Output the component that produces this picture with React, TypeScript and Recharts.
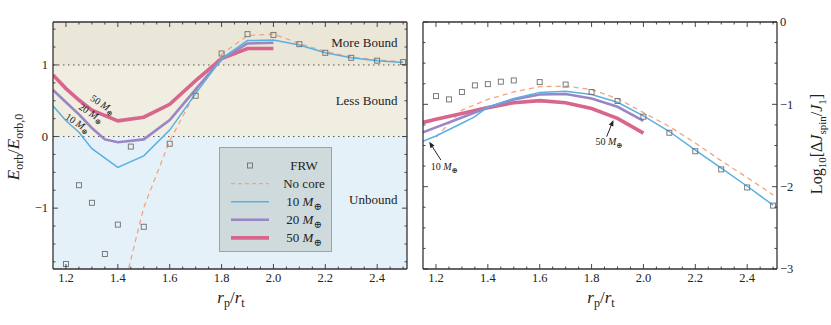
import React from 'react';
import {
  ComposedChart, Line, Scatter, XAxis, YAxis, ReferenceArea, ReferenceLine, ReferenceDot, Legend,
} from 'recharts';

const FONT = '"Liberation Serif", "DejaVu Serif", serif';
const INK = '#222';

// ---------- data ----------
const frwX = [1.2, 1.25, 1.3, 1.35, 1.4, 1.45, 1.5, 1.6, 1.7, 1.8, 1.9, 2.0, 2.1, 2.2, 2.3, 2.4, 2.5];

// Left panel: E_orb / E_orb,0
const energyFRW = [-1.78, -0.68, -0.925, -1.64, -1.23, -0.14, -1.26, -0.1, 0.57, 1.16, 1.43, 1.42, 1.29, 1.17, 1.1, 1.06, 1.04];
const energyNoCoreX = [1.4, 1.5, 1.6, 1.7, 1.8, 1.9, 2.0, 2.1, 2.2, 2.3, 2.4, 2.5];
const energyNoCore = [-2.45, -0.99, -0.06, 0.62, 1.15, 1.41, 1.43, 1.3, 1.19, 1.11, 1.07, 1.045];
const energy10X = [1.15, 1.2, 1.25, 1.3, 1.4, 1.5, 1.6, 1.7, 1.8, 1.9, 2.0, 2.1, 2.2, 2.3, 2.4, 2.5];
const energy10 = [0.43, 0.22, 0.06, -0.17, -0.43, -0.27, 0.09, 0.6, 1.09, 1.34, 1.35, 1.28, 1.17, 1.1, 1.06, 1.035];
const energy20X = [1.15, 1.2, 1.25, 1.3, 1.35, 1.4, 1.5, 1.6, 1.7, 1.8, 1.9, 2.0];
const energy20 = [0.65, 0.48, 0.31, 0.12, -0.04, -0.08, -0.04, 0.23, 0.66, 1.08, 1.3, 1.31];
const energy50X = [1.15, 1.2, 1.25, 1.3, 1.4, 1.5, 1.6, 1.7, 1.8, 1.9, 2.0];
const energy50 = [0.86, 0.67, 0.51, 0.37, 0.22, 0.27, 0.45, 0.78, 1.09, 1.23, 1.23];

// Right panel: Log10[ΔJspin / J1]
const spinFRW = [-0.9, -0.94, -0.85, -0.77, -0.755, -0.725, -0.71, -0.73, -0.76, -0.85, -0.96, -1.15, -1.345, -1.57, -1.79, -2.01, -2.23];
const spinNoCoreX = [1.2, 1.3, 1.4, 1.5, 1.6, 1.7, 1.8, 1.9, 2.0, 2.1, 2.2, 2.3, 2.4, 2.5];
const spinNoCore = [-1.4, -1.07, -0.94, -0.85, -0.785, -0.78, -0.82, -0.93, -1.1, -1.27, -1.47, -1.685, -1.89, -2.1];
const spin10X = [1.15, 1.2, 1.3, 1.35, 1.4, 1.5, 1.6, 1.7, 1.8, 1.9, 2.0, 2.1, 2.2, 2.3, 2.4, 2.5];
const spin10 = [-1.45, -1.385, -1.23, -1.15, -1.03, -0.93, -0.855, -0.84, -0.88, -0.975, -1.14, -1.33, -1.555, -1.775, -1.995, -2.225];
const spin20X = [1.15, 1.2, 1.3, 1.4, 1.5, 1.6, 1.7, 1.8, 1.9, 2.0];
const spin20 = [-1.34, -1.28, -1.16, -1.04, -0.94, -0.88, -0.875, -0.93, -1.03, -1.2];
const spin50X = [1.15, 1.2, 1.3, 1.4, 1.5, 1.6, 1.7, 1.8, 1.9, 2.0];
const spin50 = [-1.22, -1.18, -1.11, -1.04, -0.98, -0.955, -0.98, -1.05, -1.17, -1.35];

// ticks
const xTickLabels = [1.2, 1.4, 1.6, 1.8, 2.0, 2.2, 2.4];
const energyTickLabels = [-1, 0, 1];
const spinTickLabels = [-3, -2, -1, 0];
const xDomain: [number, number] = [1.15, 2.515];
const energyDomain: [number, number] = [-1.85, 1.6];
const spinDomain: [number, number] = [-3, 0];

const stepTicks = (a: number, b: number, s: number) => {
  const out: number[] = [];
  for (let v = a; v <= b + 1e-9; v += s) out.push(Math.round(v * 100) / 100);
  return out;
};
const xMinor = stepTicks(1.2, 2.5, 0.05);
const energyMinor = stepTicks(-1.75, 1.5, 0.25);
const spinMinor = stepTicks(-3, 0, 0.25);

const zip = (xs: number[], ys: number[]) => xs.map((x, i) => ({ x, y: ys[i] }));

// ---------- styles ----------
const C_BLUE = '#58b0e3';
const C_PURPLE = '#9a86c4';
const C_PINK = '#d8668c';
const C_DASH = '#f2a482';
const C_SQ = '#6e6e6e';

// ---------- ticks ----------
type Side = 'bottom' | 'top' | 'left' | 'right';
const fmt = (v: number, d: number) => {
  const s = v.toFixed(d);
  return s.startsWith('-') ? '\u2212' + s.slice(1) : s;
};
const makeTick = (side: Side, majors: number[], showLabel: boolean, digits: number) => (props: any) => {
  const { x, y, payload } = props;
  const v = payload.value as number;
  const major = majors.some((m) => Math.abs(m - v) < 1e-6);
  const len = major ? 5 : 2.5;
  let x2 = x, y2 = y;
  if (side === 'bottom') y2 = y - len;
  else if (side === 'top') y2 = y + len;
  else if (side === 'left') x2 = x + len;
  else x2 = x - len;
  let label: any = null;
  if (showLabel && major) {
    const common = { fontSize: 12.5, fill: INK, fontFamily: FONT };
    if (side === 'bottom') label = <text x={x} y={y + 13} textAnchor="middle" {...common}>{fmt(v, digits)}</text>;
    else if (side === 'left') label = <text x={x - 5} y={y + 4.3} textAnchor="end" {...common}>{fmt(v, digits)}</text>;
    else if (side === 'right') label = <text x={x + 3} y={y + 4.3} textAnchor="start" {...common}>{fmt(v, digits)}</text>;
  }
  return (
    <g>
      <line x1={x} y1={y} x2={x2} y2={y2} stroke="#333" strokeWidth={0.9} />
      {label}
    </g>
  );
};

const tickBottomLabeled = makeTick('bottom', xTickLabels, true, 1);
const tickTop = makeTick('top', xTickLabels, false, 1);
const tickLeftEnergy = makeTick('left', energyTickLabels, true, 0);
const tickRightEnergy = makeTick('right', energyTickLabels, false, 0);
const tickLeftSpin = makeTick('left', spinTickLabels, false, 0);
const tickRightSpin = makeTick('right', spinTickLabels, true, 0);

const squareShape = (p: any) => (
  <rect x={p.cx - 2.5} y={p.cy - 2.5} width={5} height={5} fill="none" stroke={C_SQ} strokeWidth={0.9} />
);

const MassSpans = ({ m, size }: { m: string; size: number }) => (
  <>
    <tspan>{m} </tspan>
    <tspan fontStyle="italic">M</tspan>
    <tspan fontSize={size * 0.75} dy={size * 0.28}>{'\u2295'}</tspan>
  </>
);

const rotatedMass = (m: string) => (p: any) => (
  <text
    x={p.cx}
    y={p.cy}
    transform={`rotate(33 ${p.cx} ${p.cy})`}
    textAnchor="middle"
    fontSize={10}
    fontFamily={FONT}
    fill={INK}
  >
    <MassSpans m={m} size={10} />
  </text>
);

const arrowShape = (m: string, dx: number, dy: number, tx: number, ty: number) => (p: any) => {
  const { cx, cy } = p;
  const L = Math.hypot(dx, dy);
  const ux = -dx / L, uy = -dy / L;
  const hl = 6, hw = 2.4;
  const bx = cx - ux * hl, by = cy - uy * hl;
  const pts = `${cx},${cy} ${bx - uy * hw},${by + ux * hw} ${bx + uy * hw},${by - ux * hw}`;
  return (
    <g>
      <line x1={cx + dx} y1={cy + dy} x2={bx} y2={by} stroke={INK} strokeWidth={1} />
      <polygon points={pts} fill={INK} />
      <text x={cx + tx} y={cy + ty} textAnchor="middle" fontSize={10} fontFamily={FONT} fill={INK}>
        <MassSpans m={m} size={10} />
      </text>
    </g>
  );
};

// ---------- legend ----------
const legendEntries = [
  { name: 'FRW', kind: 'square', color: C_SQ, width: 0, dash: '' },
  { name: 'No core', kind: 'line', color: C_DASH, width: 1.3, dash: '4 3' },
  { name: '10', kind: 'line', color: C_BLUE, width: 1.6, dash: '' },
  { name: '20', kind: 'line', color: C_PURPLE, width: 2.6, dash: '' },
  { name: '50', kind: 'line', color: C_PINK, width: 3.6, dash: '' },
];
const LegendBox = () => (
  <div style={{ width: 113, height: 105, background: '#cfdadd', border: '1px solid #9aa3a6', boxSizing: 'border-box' }}>
    <svg width={111} height={103} style={{ display: 'block' }}>
      {legendEntries.map((e, i) => {
        const y = 17.5 + i * 18.1;
        return (
          <g key={e.name}>
            {e.kind === 'square' ? (
              <rect x={27.5} y={y - 2.5} width={5} height={5} fill="none" stroke={e.color} strokeWidth={0.9} />
            ) : (
              <line x1={11} x2={49} y1={y} y2={y} stroke={e.color} strokeWidth={e.width} strokeDasharray={e.dash || undefined} />
            )}
            <text x={84} y={y + 4.5} textAnchor="middle" fontSize={13} fontFamily={FONT} fill={INK}>
              {e.kind === 'square' || e.name === 'No core' ? e.name : <MassSpans m={e.name} size={13} />}
            </text>
          </g>
        );
      })}
    </svg>
  </div>
);

const regionText = (txt: string) => (p: any) => (
  <text x={p.cx} y={p.cy + 4.5} textAnchor="end" fontSize={13} fontFamily={FONT} fill={INK}>
    {txt}
  </text>
);

const axisCommon = { axisLine: { stroke: '#333', strokeWidth: 1.3 }, tickLine: false, tickSize: 0, tickMargin: 0, interval: 0 as const };

export default function App() {
  return (
    <div style={{ position: 'absolute', left: 0, top: 0, width: 831, height: 325, background: '#fff', fontFamily: FONT }}>
      {/* Left panel */}
      <div style={{ position: 'absolute', left: 0, top: 0 }}>
        <ComposedChart width={415} height={325} margin={{ top: 21, right: 7, bottom: 55, left: 52 }}>
          <XAxis dataKey="x" type="number" domain={xDomain} allowDataOverflow ticks={xMinor} tick={tickBottomLabeled} height={1} {...axisCommon} />
          <XAxis xAxisId="top" orientation="top" dataKey="x" type="number" domain={xDomain} allowDataOverflow ticks={xMinor} tick={tickTop} height={1} {...axisCommon} />
          <YAxis dataKey="y" type="number" domain={energyDomain} allowDataOverflow ticks={energyMinor} tick={tickLeftEnergy} width={1} {...axisCommon} />
          <YAxis yAxisId="right" orientation="right" type="number" domain={energyDomain} allowDataOverflow ticks={energyMinor} tick={tickRightEnergy} width={1} {...axisCommon} />

          <ReferenceArea y1={1} y2={1.6} fill="#ebe7d8" fillOpacity={1} stroke="none" />
          <ReferenceArea y1={0} y2={1} fill="#f0ede1" fillOpacity={1} stroke="none" />
          <ReferenceArea y1={-1.85} y2={0} fill="#e5f1f8" fillOpacity={1} stroke="none" />
          <ReferenceLine y={1} stroke="#555" strokeDasharray="1.5 3.5" strokeWidth={1} />
          <ReferenceLine y={0} stroke="#555" strokeDasharray="1.5 3.5" strokeWidth={1} />

          <ReferenceDot x={2.478} y={1.31} r={0} shape={regionText('More Bound')} />
          <ReferenceDot x={2.478} y={0.5} r={0} shape={regionText('Less Bound')} />
          <ReferenceDot x={2.478} y={-0.88} r={0} shape={regionText('Unbound')} />

          <Line data={zip(energyNoCoreX, energyNoCore)} dataKey="y" stroke={C_DASH} strokeWidth={1.3} strokeDasharray="5 4" dot={false} isAnimationActive={false} />
          <Line data={zip(energy50X, energy50)} dataKey="y" stroke={C_PINK} strokeWidth={3.6} dot={false} isAnimationActive={false} />
          <Line data={zip(energy20X, energy20)} dataKey="y" stroke={C_PURPLE} strokeWidth={2.6} dot={false} isAnimationActive={false} />
          <Line data={zip(energy10X, energy10)} dataKey="y" stroke={C_BLUE} strokeWidth={1.5} dot={false} isAnimationActive={false} />
          <Scatter data={zip(frwX, energyFRW)} dataKey="y" shape={squareShape} isAnimationActive={false} />

          <ReferenceDot x={1.335} y={0.41} r={0} shape={rotatedMass('50')} />
          <ReferenceDot x={1.29} y={0.29} r={0} shape={rotatedMass('20')} />
          <ReferenceDot x={1.238} y={0.15} r={0} shape={rotatedMass('10')} />

          <Legend
            layout="horizontal"
            align="center"
            verticalAlign="middle"
            content={() => <LegendBox />}
            wrapperStyle={{ position: 'absolute', left: 219, top: 147, width: 113, height: 105 }}
          />
        </ComposedChart>
      </div>

      {/* Right panel */}
      <div style={{ position: 'absolute', left: 415, top: 0 }}>
        <ComposedChart width={416} height={325} margin={{ top: 21, right: 53, bottom: 55, left: 7 }}>
          <XAxis dataKey="x" type="number" domain={xDomain} allowDataOverflow ticks={xMinor} tick={tickBottomLabeled} height={1} {...axisCommon} />
          <XAxis xAxisId="top" orientation="top" dataKey="x" type="number" domain={xDomain} allowDataOverflow ticks={xMinor} tick={tickTop} height={1} {...axisCommon} />
          <YAxis dataKey="y" type="number" domain={spinDomain} allowDataOverflow ticks={spinMinor} tick={tickLeftSpin} width={1} {...axisCommon} />
          <YAxis yAxisId="right" orientation="right" type="number" domain={spinDomain} allowDataOverflow ticks={spinMinor} tick={tickRightSpin} width={1} {...axisCommon} />

          <Line data={zip(spinNoCoreX, spinNoCore)} dataKey="y" stroke={C_DASH} strokeWidth={1.3} strokeDasharray="5 4" dot={false} isAnimationActive={false} />
          <Line data={zip(spin50X, spin50)} dataKey="y" stroke={C_PINK} strokeWidth={3.6} dot={false} isAnimationActive={false} />
          <Line data={zip(spin20X, spin20)} dataKey="y" stroke={C_PURPLE} strokeWidth={2.6} dot={false} isAnimationActive={false} />
          <Line data={zip(spin10X, spin10)} dataKey="y" stroke={C_BLUE} strokeWidth={1.5} dot={false} isAnimationActive={false} />
          <Scatter data={zip(frwX, spinFRW)} dataKey="y" shape={squareShape} isAnimationActive={false} />

          <ReferenceDot x={1.174} y={-1.455} r={0} shape={arrowShape('10', 11.7, 18.3, 15, 28.5)} />
          <ReferenceDot x={1.884} y={-1.19} r={0} shape={arrowShape('50', -6.7, 16.7, -4.3, 25.5)} />
        </ComposedChart>
      </div>

      {/* Axis titles */}
      <svg width={831} height={325} style={{ position: 'absolute', left: 0, top: 0, pointerEvents: 'none' }}>
        <g fontFamily={FONT} fill={INK}>
          <text x={231} y={303} textAnchor="middle" fontSize={17}>
            <tspan fontStyle="italic">r</tspan>
            <tspan fontSize={12} dy={4}>p</tspan>
            <tspan dy={-4}>/</tspan>
            <tspan fontStyle="italic">r</tspan>
            <tspan fontSize={12} dy={4}>t</tspan>
          </text>
          <text x={601} y={303} textAnchor="middle" fontSize={17}>
            <tspan fontStyle="italic">r</tspan>
            <tspan fontSize={12} dy={4}>p</tspan>
            <tspan dy={-4}>/</tspan>
            <tspan fontStyle="italic">r</tspan>
            <tspan fontSize={12} dy={4}>t</tspan>
          </text>
          <text x={19} y={147} transform="rotate(-90 19 147)" textAnchor="middle" fontSize={17}>
            <tspan fontStyle="italic">E</tspan>
            <tspan fontSize={12} dy={4}>orb</tspan>
            <tspan dy={-4}>/</tspan>
            <tspan fontStyle="italic">E</tspan>
            <tspan fontSize={12} dy={4}>orb,0</tspan>
          </text>
          <text x={822} y={144} transform="rotate(-90 822 144)" textAnchor="middle" fontSize={16}>
            <tspan>Log</tspan>
            <tspan fontSize={11} dy={4}>10</tspan>
            <tspan dy={-4}>[Δ</tspan>
            <tspan fontStyle="italic">J</tspan>
            <tspan fontSize={11} dy={4}>spin</tspan>
            <tspan dy={-4}>/</tspan>
            <tspan fontStyle="italic">J</tspan>
            <tspan fontSize={11} dy={4}>1</tspan>
            <tspan dy={-4}>]</tspan>
          </text>
        </g>
      </svg>
    </div>
  );
}
